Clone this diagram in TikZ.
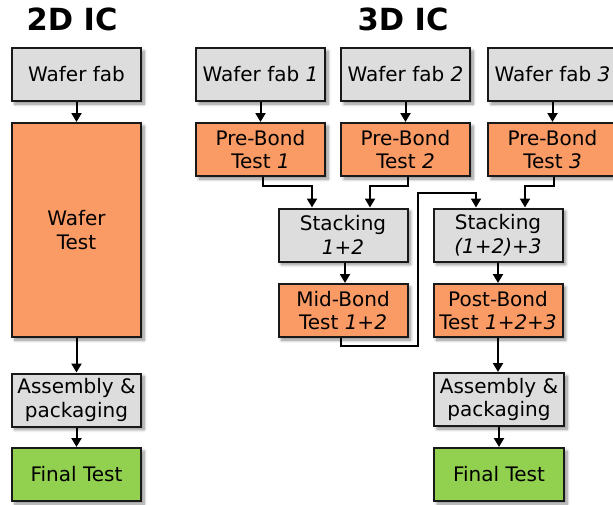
\documentclass[tikz,border=0pt]{standalone}
\usepackage{fontspec}
\setmainfont{DejaVu Sans}
\usetikzlibrary{arrows.meta,shadows.blur}
\definecolor{boxgray}{RGB}{221,221,221}
\definecolor{boxorange}{RGB}{250,155,102}
\definecolor{boxgreen}{RGB}{146,208,80}
\begin{document}
\begin{tikzpicture}[x=1pt,y=-1pt,
  stage/.style={draw=black!90, line width=2pt, inner sep=0pt, align=center,
    minimum width=129pt, minimum height=53pt,
    font=\fontsize{20}{23.5}\selectfont,
    blur shadow={shadow xshift=3pt, shadow yshift=-3pt, shadow blur radius=3pt,
      shadow blur steps=8, shadow opacity=45}},
  fab/.style={stage, fill=boxgray},
  tst/.style={stage, fill=boxorange},
  fin/.style={stage, fill=boxgreen},
  heading/.style={inner sep=0pt, font=\fontsize{30.5}{36}\selectfont\bfseries},
  flow/.style={draw=black, line width=2pt, -{Triangle[width=10pt,length=9pt]}}]
\useasboundingbox (0,0) rectangle (613,504);

% headings
\node[heading] (t2d) at (72,19) {2D IC};
\node[heading] (t3d) at (403,19) {3D IC};

% 2D flow
\node[fab] (wf) at (76.5,74.5) {Wafer fab};
\node[tst, minimum height=214pt] (wt) at (76.5,230) {Wafer\\Test};
\node[fab] (ap) at (76.5,400) {Assembly \&\\packaging};
\node[fin] (ft) at (76.5,474.5) {Final Test};

\draw[flow] (wf) -- (wt);
\draw[flow] (wt) -- (ap);
\draw[flow] (ap) -- (ft);

% 3D flow: three dies
\node[fab] (wfa) at (260.5,74.5) {Wafer fab \textit{1}};
\node[fab] (wfb) at (405.5,74.5) {Wafer fab \textit{2}};
\node[fab] (wfc) at (552.5,74.5) {Wafer fab \textit{3}};
\node[tst] (pba) at (260.5,149.5) {Pre-Bond\\Test \textit{1}};
\node[tst] (pbb) at (405.5,149.5) {Pre-Bond\\Test \textit{2}};
\node[tst] (pbc) at (552.5,149.5) {Pre-Bond\\Test \textit{3}};

% stacking
\node[fab] (sab) at (343,235) {Stacking\\\textit{1+2}};
\node[tst] (mb) at (343,310.5) {Mid-Bond\\Test \textit{1+2}};
\node[fab] (sabc) at (498,235) {Stacking\\\textit{(1+2)+3}};
\node[tst] (pob) at (498,310.5) {Post-Bond\\Test \textit{1+2+3}};
\node[fab, minimum width=130pt] (apb) at (499,399.5) {Assembly \&\\packaging};
\node[fin, minimum width=130pt] (ftb) at (499,474.5) {Final Test};

\draw[flow] (wfa) -- (pba);
\draw[flow] (wfb) -- (pbb);
\draw[flow] (wfc) -- (pbc);

\draw[flow] ([xshift=2.5pt]pba.south) -- ++(0,9) -| ([xshift=-31pt]sab.north);
\draw[flow] ([xshift=2.5pt]pbb.south) -- ++(0,9) -| ([xshift=27pt]sab.north);
\draw[flow] ([xshift=1.5pt]pbc.south) -- ++(0,9) -| ([xshift=27pt]sabc.north);

\draw[flow] ([xshift=2pt]sab.south) -- ([xshift=2pt]mb.north);
\draw[flow] ([xshift=-2pt]mb.south) -- ++(0,8) -- (418,346) -- (418,193)
  -| ([xshift=-22pt]sabc.north);
\draw[flow] (sabc) -- (pob);
\draw[flow] (pob.south) -- (pob.south |- apb.north);
\draw[flow] (apb) -- (ftb);
\end{tikzpicture}
\end{document}
